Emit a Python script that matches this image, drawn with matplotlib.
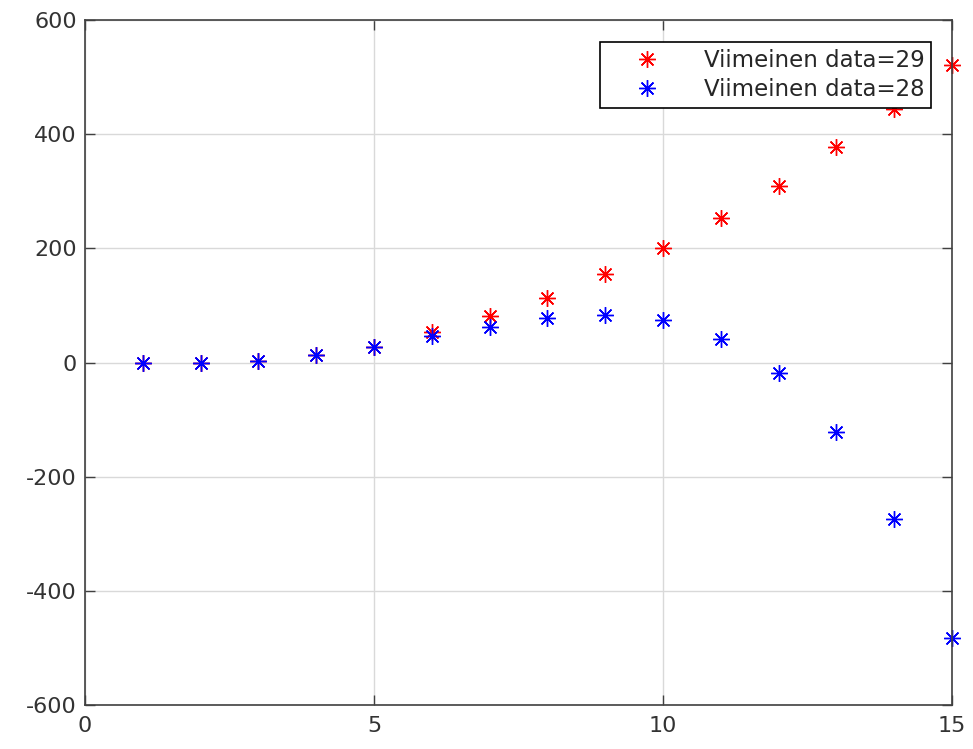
import numpy as np
import matplotlib.pyplot as plt

plt.rcParams['axes.unicode_minus'] = False

# data
n = [1, 2, 3, 4, 5, 6, 7, 8, 9, 10, 11, 12, 13, 14, 15]
data29 = [0, 0, 3, 14, 28, 54, 82, 114, 156, 200, 254, 310, 377, 444, 521]
data28 = [0, 0, 3, 14, 28, 47, 63, 79, 84, 74, 42, -19, -121, -274, -482]

xticks = [0, 5, 10, 15]
yticks = [-600, -400, -200, 0, 200, 400, 600]

asterisk = (8, 2, 0)

fig = plt.figure(figsize=(9.73, 7.49), dpi=100)
ax = fig.add_axes([0.0874, 0.0587, 0.891, 0.9143])

ax.plot(n, data29, linestyle='none', marker=asterisk, color='red', markersize=12,
        markeredgewidth=1.0, label='Viimeinen data=29', clip_on=False)
ax.plot(n, data28, linestyle='none', marker=asterisk, color='blue', markersize=12,
        markeredgewidth=1.0, label='Viimeinen data=28', clip_on=False)

ax.set_xlim(0, 15)
ax.set_ylim(-600, 600)
ax.set_xticks(xticks)
ax.set_yticks(yticks)
ax.grid(True, color='#d9d9d9', linewidth=1)
ax.set_axisbelow(True)

for s in ax.spines.values():
    s.set_color('#404040')
    s.set_linewidth(1.2)
ax.tick_params(direction='in', length=7, width=1, colors='#404040', labelsize=16,
               top=True, right=True, labelcolor='#333333')
ax.tick_params(axis='x', pad=8)
ax.tick_params(axis='y', pad=6)

leg = ax.legend(loc='upper right', bbox_to_anchor=(0.976, 0.968), fontsize=16.5,
                frameon=True, fancybox=False, edgecolor='black', framealpha=1,
                borderpad=0.3, handlelength=3.5, handletextpad=0.7, labelspacing=0.25,
                borderaxespad=0)
leg.get_frame().set_linewidth(1.2)
for t in leg.get_texts():
    t.set_color('#262626')

plt.savefig('out.png', dpi=100)
